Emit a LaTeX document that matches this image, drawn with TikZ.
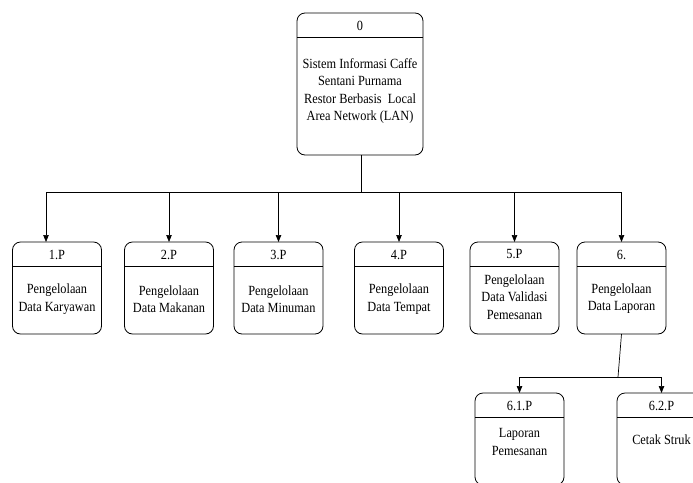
\documentclass[tikz,border=0pt]{standalone}
\usepackage{fontspec}
\setmainfont{Liberation Serif}[FakeStretch=0.88]
\usetikzlibrary{arrows.meta,calc}
\newcommand\procbox[8]{%
  \node[box,minimum width=#4pt,minimum height=#5pt] (#1) at (#2,#3) {};
  \draw[line width=0.8pt] ($(#1.north west)+(0,24.5)$) -- ($(#1.north east)+(0,24.5)$);
  \node[lbl] (#1h) at ($(#1.north)+(0,12.5)$) {#6};
  \node[lbl] (#1t) at (#2,#7) {#8};}
\begin{document}
\begin{tikzpicture}[x=1pt,y=-1pt,
  box/.style={draw,rounded corners=8pt,line width=0.8pt,inner sep=0pt,outer sep=0pt},
  lbl/.style={font=\fontsize{14}{17.5}\selectfont,align=center,inner sep=0pt},
  arr/.style={-{Triangle[length=7pt,width=5.5pt]},line width=0.7pt},
  con/.style={line width=0.7pt}]
\useasboundingbox (0,0) rectangle (693,482);
\clip (0,0) rectangle (693,482);
\procbox{p0}{360}{84}{126}{142}{0}{91}{Sistem Informasi Caffe\\Sentani Purnama\\Restor Berbasis\ \ Local\\Area Network (LAN)}
\procbox{p1}{57}{288}{89}{92}{1.P}{299}{Pengelolaan\\Data Karyawan}
\procbox{p2}{169}{288}{89}{92}{2.P}{299}{Pengelolaan\\Data Makanan}
\procbox{p3}{278.5}{288}{89}{92}{3.P}{299}{Pengelolaan\\Data Minuman}
\procbox{p4}{399}{288}{89}{92}{4.P}{299}{Pengelolaan\\Data Tempat}
\procbox{p5}{514.5}{288}{89}{92}{5.P}{297}{Pengelolaan\\Data Validasi\\Pemesanan}
\procbox{p6}{621.5}{288}{89}{92}{6.}{298.5}{Pengelolaan\\Data Laporan}
\procbox{p61}{519.5}{439}{89}{92}{6.1.P}{442}{Laporan\\Pemesanan}
\procbox{p62}{661.5}{439}{89}{92}{6.2.P}{440}{Cetak Struk}
\coordinate (j0) at (361,192);
\coordinate (t1) at (46,242);
\draw[con] (p0.south -| j0) -- (j0);
\draw[arr] (j0) -| (t1);
\draw[arr] (j0) -| (p2.north);
\draw[arr] (j0) -| (p3.north);
\draw[arr] (j0) -| (p4.north);
\draw[arr] (j0) -| (p5.north);
\draw[arr] (j0) -| (p6.north);
\coordinate (j6) at (618,377);
\draw[con] (p6.south) -- (j6);
\draw[arr] (j6) -| (p61.north);
\draw[arr] (j6) -| (p62.north);
\end{tikzpicture}
\end{document}
